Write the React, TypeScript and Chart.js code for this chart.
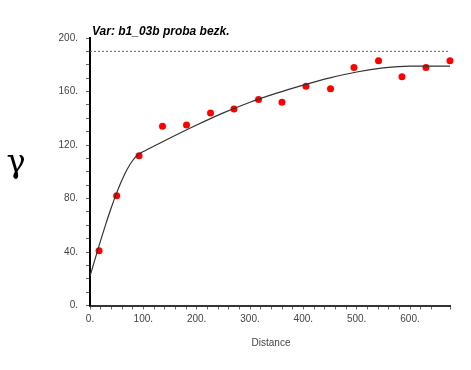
import React, { useEffect, useRef } from "react";
import { Chart, registerables } from "chart.js";

Chart.register(...registerables);

const chartTitle = "Var: b1_03b proba bezk.";
const xAxisTitle = "Distance";
const yAxisTitle = "γ";

const lagDistance = [17, 50, 92, 136, 181, 226, 270, 316, 360, 405, 451, 495, 541, 585, 630, 675];
const gammaValues = [41, 82, 112, 134, 135, 144, 147, 154, 152, 164, 162, 178, 183, 171, 178, 183];

const modelDistance = [0, 10, 20, 30, 40, 50, 60, 70, 80, 90, 100, 125, 150, 200, 250, 300, 350, 400, 450, 500, 550, 600, 675];
const modelGamma = [22, 35.4, 48.7, 61.4, 73.3, 84.2, 93.8, 102, 108.4, 112.7, 115.1, 120.2, 125.2, 134.9, 144, 152, 158.8, 164.8, 170.2, 174.6, 177.6, 179, 179];

const sillDistance = [0, 675];
const sillGamma = [190, 190];

const xMin = 0;
const xMax = 675;
const yMin = 0;
const yMax = 200;

export default function App() {
  const ref = useRef<HTMLCanvasElement>(null);

  useEffect(() => {
    const textPlugin = {
      id: "texts",
      afterDraw(chart: any) {
        const ctx = chart.ctx;
        ctx.save();
        ctx.fillStyle = "#000";
        ctx.font = "italic bold 12px 'Liberation Sans', Arial, sans-serif";
        ctx.textAlign = "left";
        ctx.textBaseline = "alphabetic";
        ctx.fillText(chartTitle, 92, 35);

        ctx.font = "10px 'Liberation Sans', Arial, sans-serif";
        ctx.fillStyle = "#444";
        ctx.textAlign = "center";
        ctx.textBaseline = "middle";
        ctx.fillText(xAxisTitle, 271, 343);

        ctx.font = "32px 'DejaVu Serif', 'Liberation Serif', serif";
        ctx.fillStyle = "#000";
        ctx.textAlign = "center";
        ctx.textBaseline = "alphabetic";
        ctx.fillText(yAxisTitle, 16, 172);
        ctx.restore();
      },
    };

    const chart = new Chart(ref.current as HTMLCanvasElement, {
      type: "scatter",
      data: {
        datasets: [
          {
            data: sillDistance.map((x, i) => ({ x, y: sillGamma[i] })),
            showLine: true,
            borderColor: "#666",
            borderWidth: 1,
            borderDash: [2, 2],
            pointRadius: 0,
          },
          {
            data: modelDistance.map((x, i) => ({ x, y: modelGamma[i] })),
            showLine: true,
            borderColor: "#333",
            borderWidth: 1.2,
            pointRadius: 0,
            cubicInterpolationMode: "monotone",
          },
          {
            data: lagDistance.map((x, i) => ({ x, y: gammaValues[i] })),
            showLine: false,
            pointRadius: 3.5,
            pointBackgroundColor: "#ff0000",
            pointBorderColor: "#ff0000",
            borderWidth: 0,
            clip: false,
          } as any,
        ],
      },
      options: {
        animation: false,
        responsive: false,
        maintainAspectRatio: false,
        layout: { padding: { left: 0, right: 21, top: 38, bottom: 0 } },
        plugins: {
          legend: { display: false },
          tooltip: { enabled: false },
          title: { display: false },
        },
        scales: {
          x: {
            type: "linear",
            min: xMin,
            max: xMax,
            afterFit(scale: any) {
              scale.height = 64.5;
            },
            border: { display: true, color: "#333", width: 2 },
            grid: {
              drawOnChartArea: false,
              drawTicks: true,
              tickLength: 4,
              color: "#666",
            },
            ticks: {
              stepSize: 20,
              autoSkip: false,
              maxRotation: 0,
              padding: 4,
              color: "#444",
              font: { size: 10, family: "'Liberation Sans', Arial, sans-serif" },
              callback: (v: any) => (Number(v) % 100 === 0 ? v + "." : ""),
            },
          },
          y: {
            type: "linear",
            min: yMin,
            max: yMax,
            afterFit(scale: any) {
              scale.width = 90;
            },
            border: { display: true, color: "#000", width: 2 },
            grid: {
              drawOnChartArea: false,
              drawTicks: true,
              tickLength: 4,
              color: "#666",
            },
            ticks: {
              stepSize: 10,
              autoSkip: false,
              padding: 8,
              color: "#444",
              font: { size: 10, family: "'Liberation Sans', Arial, sans-serif" },
              callback: (v: any) => (Number(v) % 40 === 0 ? v + "." : ""),
            },
          },
        },
      },
      plugins: [textPlugin],
    } as any);
    return () => chart.destroy();
  }, []);

  return (
    <div style={{ position: "absolute", left: 0, top: 0, width: 471, height: 370, background: "#fff" }}>
      <canvas ref={ref} width={471} height={370} style={{ width: 471, height: 370 }} />
    </div>
  );
}
